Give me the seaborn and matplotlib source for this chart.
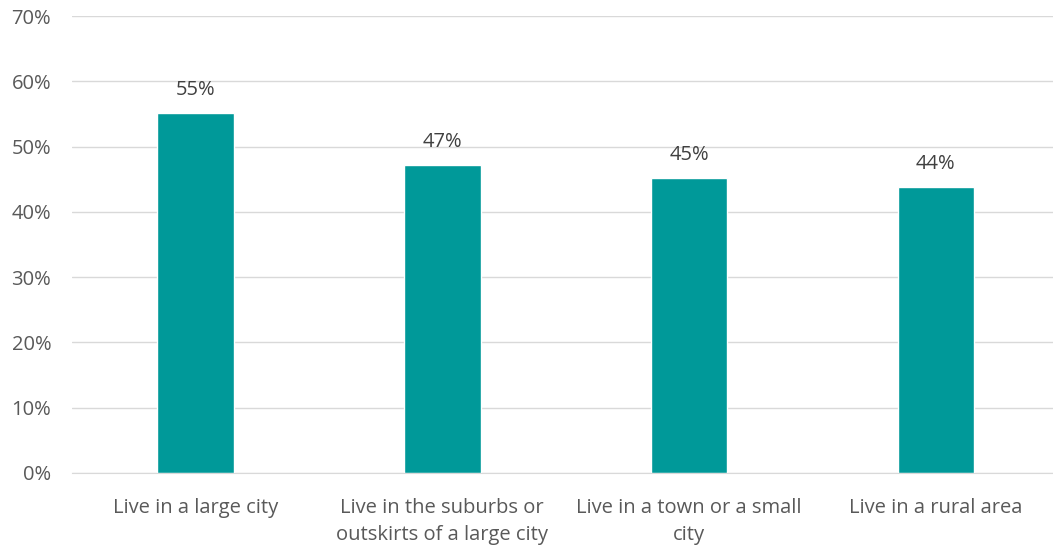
import matplotlib
matplotlib.use("Agg")
import matplotlib.pyplot as plt
import seaborn as sns
import pandas as pd

# values
categories = ["Live in a large city",
              "Live in the suburbs or\noutskirts of a large city",
              "Live in a town or a small\ncity",
              "Live in a rural area"]
shares = [55, 47, 45, 44]
bar_heights = [55.1, 47.2, 45.2, 43.8]

df = pd.DataFrame({"area": categories, "share": bar_heights, "label": shares})

sns.set_style("white")
plt.rcParams["font.family"] = ["Open Sans", "DejaVu Sans"]

fig = plt.figure(figsize=(10.53, 5.48), dpi=100)
ax = fig.add_axes([72 / 1053, (548 - 473) / 548, 1 - 72 / 1053 + 0.006, (473 - 16) / 548])

sns.barplot(data=df, x="area", y="share", color="#009999", width=0.31,
            saturation=1, ax=ax, zorder=2)

for i, row in df.iterrows():
    ax.text(i, row["share"] + 2.0, f"{row['label']}%", ha="center", va="bottom",
            fontsize=14.5, color="#404040")

ax.set_ylim(0, 70)
ax.set_xlim(-0.5, 3.5)
ax.set_yticks(range(0, 71, 10))
ax.set_yticklabels([f"{v}%" for v in range(0, 71, 10)])
for lbl in ax.get_xticklabels():
    lbl.set_linespacing(1.45)
ax.yaxis.grid(True, color="#d9d9d9", linewidth=1, zorder=0)
ax.set_xlabel("")
ax.set_ylabel("")
for s in ["top", "right", "left"]:
    ax.spines[s].set_visible(False)
ax.spines["bottom"].set_color("#d9d9d9")
ax.tick_params(axis="both", length=0, colors="#595959")
ax.tick_params(axis="x", labelsize=14.5, pad=18)
ax.tick_params(axis="y", labelsize=14.5, pad=15)

fig.savefig("out.png", dpi=100)
